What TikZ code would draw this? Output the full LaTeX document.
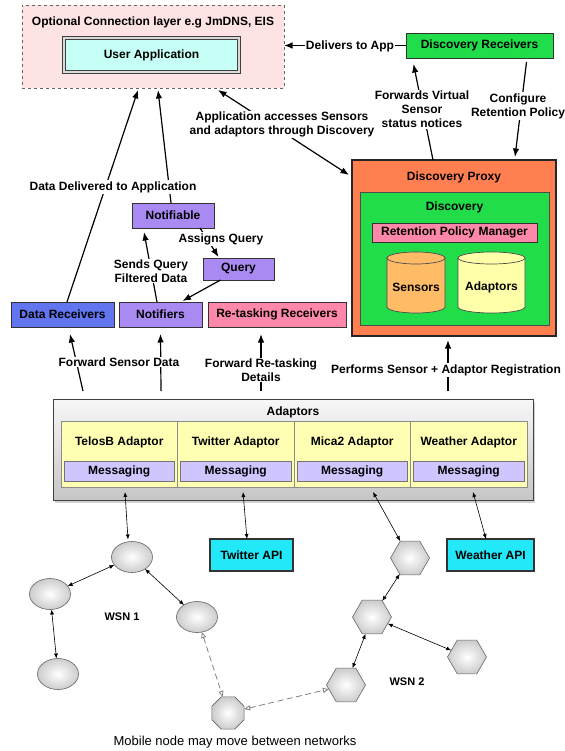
\documentclass[tikz,border=0pt]{standalone}
\usepackage{fontspec}
\setmainfont{Liberation Sans}
\usetikzlibrary{arrows.meta,shapes.geometric,shadows}
\definecolor{optfill}{HTML}{FDE3E3}
\definecolor{uafill}{HTML}{C6FFF5}
\definecolor{greenc}{HTML}{22DD4A}
\definecolor{proxyc}{HTML}{FF7F50}
\definecolor{pinkc}{HTML}{FF88AA}
\definecolor{sensc}{HTML}{FFBB66}
\definecolor{adcyl}{HTML}{FFFFAA}
\definecolor{bluec}{HTML}{6075EE}
\definecolor{purplec}{HTML}{A98AF2}
\definecolor{cellc}{HTML}{FFFFB3}
\definecolor{msgc}{HTML}{CFC6FF}
\definecolor{cyanc}{HTML}{22E8F8}
\begin{document}
\begin{tikzpicture}[x=1pt,y=-1pt,
  every node/.style={font=\bfseries\fontsize{12}{14}\selectfont, inner sep=0pt, outer sep=0pt},
  box/.style={draw=black!80, line width=0.7pt, minimum height=25pt, align=center},
  lbl/.style={fill=white, inner sep=1pt, align=center},
  arr/.style={line width=1.2pt, -{Latex[length=8.5pt,width=6.5pt]}},
  darr/.style={line width=1.2pt, {Latex[length=8.5pt,width=6.5pt]}-{Latex[length=8.5pt,width=6.5pt]}},
  thinarr/.style={line width=0.6pt, {Latex[length=5pt,width=4pt]}-{Latex[length=5pt,width=4pt]}},
  dasharr/.style={black!50, line width=0.8pt, dash pattern=on 6pt off 3.5pt, {Triangle[open,length=6pt,width=5pt]}-{Triangle[open,length=6pt,width=5pt]}},
  wsnE/.style={ellipse, draw=black!60, line width=0.6pt, inner color=white, outer color=gray!40, minimum width=41pt, minimum height=31pt},
  wsnH/.style={regular polygon, regular polygon sides=6, draw=black!60, line width=0.6pt, inner color=white, outer color=gray!40, minimum size=39pt},
  wsnO/.style={regular polygon, regular polygon sides=8, draw=black!60, line width=0.6pt, inner color=white, outer color=gray!40, minimum size=35pt},
  cell/.style={draw=black!45, line width=0.6pt, fill=cellc, minimum width=116.5pt, minimum height=66pt},
  msg/.style={draw=black!55, line width=0.6pt, fill=msgc, minimum width=110.5pt, minimum height=20pt},
]
\useasboundingbox (0,0) rectangle (564,751);
\fill[white] (0,0) rectangle (564,751);

% ---------- top ----------
\node[draw=black!60, dashed, line width=0.7pt, fill=optfill, minimum width=262pt, minimum height=83pt] (opt) at (153,46.5) {};
\node (optt) at (153,22) {Optional Connection layer e.g JmDNS, EIS};
\node[draw=black!75, line width=0.9pt, double=white!85!black, double distance=1.5pt, fill=uafill, minimum width=175pt, minimum height=34pt] (ua) at (151.5,55) {User Application};
\node[box, fill=greenc, minimum width=147pt] (dr) at (479.5,45.5) {Discovery Receivers};

% ---------- discovery proxy ----------
\node[draw=black!85, line width=1.6pt, fill=proxyc, minimum width=204pt, minimum height=176pt] (proxy) at (454,248) {};
\node (proxyt) at (454,177) {Discovery Proxy};
\node[draw=black!70, line width=0.7pt, fill=greenc, minimum width=189pt, minimum height=133pt] (disc) at (454.5,258.5) {};
\node (disct) at (454.5,207) {Discovery};
\node[box, fill=pinkc, minimum width=165pt, minimum height=19pt] (rpm) at (454.5,232.5) {Retention Policy Manager};
\filldraw[fill=sensc, draw=black!70, line width=0.7pt] (387,258) -- (387,307) arc[start angle=180,end angle=360,x radius=29pt,y radius=6pt] -- (445,258) arc[start angle=0,end angle=180,x radius=29pt,y radius=6pt] -- cycle;
\draw[black!70, line width=0.7pt] (387,258) arc[start angle=180,end angle=360,x radius=29pt,y radius=6pt];
\node (sens) at (416,287) {Sensors};
\filldraw[fill=adcyl, draw=black!70, line width=0.7pt] (458,258) -- (458,307) arc[start angle=180,end angle=360,x radius=33.5pt,y radius=6pt] -- (525,258) arc[start angle=0,end angle=180,x radius=33.5pt,y radius=6pt] -- cycle;
\draw[black!70, line width=0.7pt] (458,258) arc[start angle=180,end angle=360,x radius=33.5pt,y radius=6pt];
\node (adcy) at (491.5,287) {Adaptors};

% ---------- receivers row ----------
\node[box, fill=bluec, minimum width=103pt] (dataRx) at (62.5,314.5) {Data Receivers};
\node[box, fill=purplec, minimum width=83pt] (notifiers) at (160.5,314.5) {Notifiers};
\node[box, fill=pinkc, minimum width=138pt] (retask) at (277,314.5) {Re-tasking Receivers};
\node[box, fill=purplec, minimum width=82pt] (notifiable) at (173,215.5) {Notifiable};
\node[box, fill=purplec, minimum width=71pt, minimum height=22pt] (query) at (238.5,269) {Query};

% ---------- adaptors ----------
\node[draw=black!75, line width=0.8pt, top color=gray!6, bottom color=gray!45, drop shadow={shadow xshift=1.5pt,shadow yshift=-2.5pt,opacity=0.35}, minimum width=480pt, minimum height=101pt] (adp) at (293,449.5) {};
\node (adpt) at (293,412) {Adaptors};
\node[cell] (cA) at (119.25,454) {};
\node[cell] (cB) at (235.75,454) {};
\node[cell] (cC) at (352.25,454) {};
\node[cell] (cD) at (468.75,454) {};
\node (tA) at (119.25,442) {TelosB Adaptor};
\node (tB) at (235.75,442) {Twitter Adaptor};
\node (tC) at (352.25,442) {Mica2 Adaptor};
\node (tD) at (468.75,442) {Weather Adaptor};
\node[msg] (mA) at (119.25,471) {Messaging};
\node[msg] (mB) at (235.75,471) {Messaging};
\node[msg] (mC) at (352.25,471) {Messaging};
\node[msg] (mD) at (468.75,471) {Messaging};

% ---------- bottom ----------
\node[box, fill=cyanc, line width=1.1pt, minimum width=83pt, minimum height=32pt] (tw) at (251.5,555) {Twitter API};
\node[box, fill=cyanc, line width=1.1pt, minimum width=87pt, minimum height=32pt] (wa) at (490.5,555) {Weather API};
\node[wsnE] (c1) at (132,557) {};
\node[wsnE] (c2) at (50,594) {};
\node[wsnE] (c3) at (197,617) {};
\node[wsnE] (c4) at (58,674) {};
\node[wsnH] (h1) at (410,558) {};
\node[wsnH] (h2) at (372,617) {};
\node[wsnH] (h3) at (467,657) {};
\node[wsnH] (h4) at (346,685) {};
\node[wsnO] (oct) at (228,713) {};
\node[font=\bfseries\fontsize{11}{13}\selectfont] (wsn1) at (122,617) {WSN 1};
\node[font=\bfseries\fontsize{11}{13}\selectfont] (wsn2) at (407,682) {WSN 2};
\node[font=\fontsize{13}{15}\selectfont] (mob) at (235,742) {Mobile node may move between networks};

% ---------- connectors ----------
\draw[arr] (dr.west) -- (dr.west -| opt.east);
\draw[arr] ([xshift=-21pt]proxy.north) -- ([xshift=-66pt,yshift=-6pt]dr.south);
\draw[arr] ([xshift=47pt,yshift=-4pt]dr.south) -- ([xshift=61pt,yshift=3pt]proxy.north);
\draw[darr] ([xshift=65pt,yshift=-2pt]opt.south) -- ([xshift=-3pt,yshift=-15pt]proxy.north west);
\draw[arr] ([xshift=4.5pt]dataRx.north) -- ([xshift=-15pt,yshift=-2pt]opt.south);
\draw[arr] ([xshift=-2pt]notifiable.north) -- ([xshift=5pt,yshift=-2pt]opt.south);
\draw[arr] ([xshift=-3.5pt]notifiers.north) -- ([xshift=-29pt,yshift=-4pt]notifiable.south);
\draw[arr] ([xshift=27pt]notifiable.south) -- ([xshift=-20pt,yshift=1pt]query.north);
\draw[arr] ([xshift=-18pt]query.south) -- ([xshift=22pt,yshift=1pt]notifiers.north);
\draw[arr] ([xshift=30pt,yshift=8pt]adp.north west) -- ([xshift=7.5pt,yshift=-7pt]dataRx.south);
\draw[arr] ([xshift=108pt,yshift=8pt]adp.north west) -- ([yshift=-7pt]notifiers.south);
\draw[arr] ([xshift=208pt,yshift=8pt]adp.north west) -- ([xshift=-16pt,yshift=-7pt]retask.south);
\draw[arr] ([xshift=395pt,yshift=8pt]adp.north west) -- ([xshift=-6pt,yshift=-4pt]proxy.south);

\draw[thinarr] ([xshift=72pt,yshift=8pt]adp.south west) -- ([xshift=-4pt,yshift=2pt]c1.north);
\draw[thinarr] ([xshift=190pt,yshift=8pt]adp.south west) -- ([xshift=-4.5pt]tw.north);
\draw[thinarr] ([xshift=320pt,yshift=8pt]adp.south west) -- (h1.120);
\draw[thinarr] ([xshift=420pt,yshift=8pt]adp.south west) -- ([xshift=-4.5pt]wa.north);
\draw[thinarr] (c1) -- (c2);
\draw[thinarr] (c1) -- (c3);
\draw[thinarr] (c2) -- (c4);
\draw[thinarr] (h1) -- (h2);
\draw[thinarr] (h2) -- (h3);
\draw[thinarr] (h2) -- (h4);
\draw[dasharr] (c3) -- (oct);
\draw[dasharr] (oct) -- (h4);

% ---------- labels ----------
\node[lbl] (lDel) at (350,46) {Delivers to App};
\node[lbl] (lFwd) at (422,109.5) {Forwards Virtual\\Sensor\\status notices};
\node[lbl] (lCfg) at (518,106) {Configure\\Retention Policy};
\node[lbl] (lApp) at (282,124.5) {Application accesses Sensors\\and adaptors through Discovery};
\node[lbl] (lDD) at (113,187) {Data Delivered to Application};
\node[lbl] (lSQ) at (151,271) {Sends Query\\Filtered Data};
\node[lbl] (lAQ) at (221,239) {Assigns Query};
\node[lbl] (lFS) at (119,362) {Forward Sensor Data};
\node[lbl] (lFR) at (261,370) {Forward Re-tasking\\Details};
\node[lbl] (lPR) at (446,370) {Performs Sensor + Adaptor Registration};
\end{tikzpicture}
\end{document}
